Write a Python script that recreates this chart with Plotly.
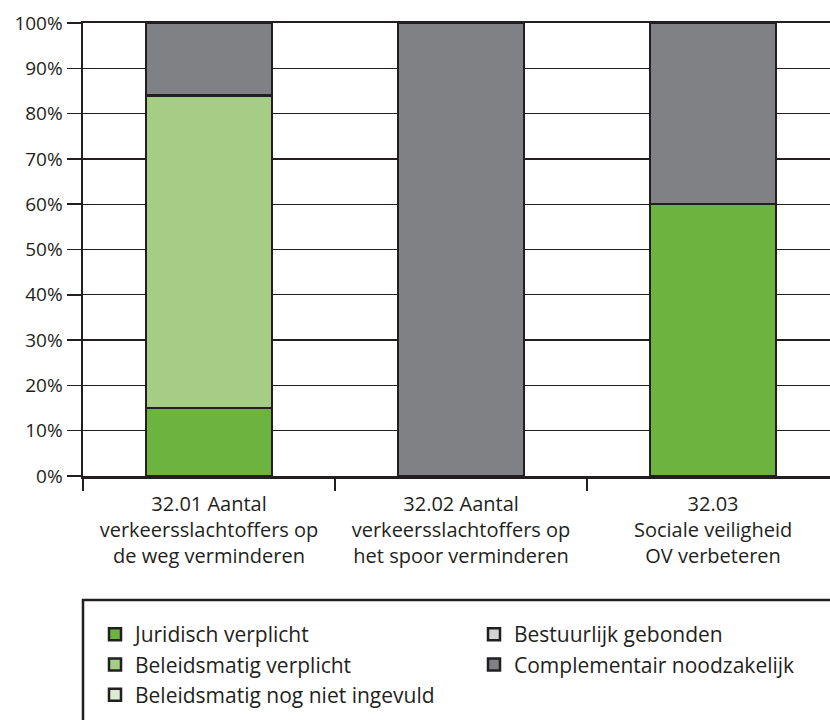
import plotly.graph_objects as go

categories = [
    "32.01 Aantal<br>verkeersslachtoffers op<br>de weg verminderen",
    "32.02 Aantal<br>verkeersslachtoffers op<br>het spoor verminderen",
    "32.03<br>Sociale veiligheid<br>OV verbeteren",
]
x_pos = [0, 1, 2]
boundaries = [-0.5, 0.5, 1.5, 2.5]

juridisch = [15, 0, 60]
beleid_verplicht = [69, 0, 0]
beleid_nog_niet = [0, 0, 0]
bestuurlijk = [0, 0, 0]
complementair = [16, 100, 40]

y_ticks = [0, 10, 20, 30, 40, 50, 60, 70, 80, 90, 100]
y_labels = [f"{v}%" for v in y_ticks]

# name, values, colour, legend column
series = [
    ("Juridisch verplicht", juridisch, "#6cb33f", "legend"),
    ("Beleidsmatig verplicht", beleid_verplicht, "#a6cd86", "legend"),
    ("Beleidsmatig nog niet ingevuld", beleid_nog_niet, "#dcebd1", "legend"),
    ("Bestuurlijk gebonden", bestuurlijk, "#d2d3d4", "legend2"),
    ("Complementair noodzakelijk", complementair, "#808184", "legend2"),
]

INK = "#231f20"
FONT = "Open Sans"

fig = go.Figure()
for name, vals, color, leg in series:
    fig.add_trace(go.Bar(
        x=x_pos, y=vals, name=name, width=0.5,
        marker=dict(color=color, line=dict(color=INK, width=2.5)),
        legend=leg, hoverinfo="skip",
    ))

# invisible trace to drive the boundary-tick axis
fig.add_trace(go.Scatter(x=[boundaries[0]], y=[0], xaxis="x2", mode="markers",
                         marker=dict(opacity=0), showlegend=False, hoverinfo="skip"))

xr = [-0.5, 2.464]
leg_top = (476 - 614) / 453
legend_common = dict(orientation="v", xref="paper", yref="paper", xanchor="left",
                     y=leg_top, yanchor="top", font=dict(size=21, color=INK),
                     bgcolor="rgba(0,0,0,0)", traceorder="normal")
fig.update_layout(
    width=830, height=720,
    margin=dict(l=83, r=0, t=23, b=244),
    paper_bgcolor="white", plot_bgcolor="white",
    barmode="stack",
    font=dict(family=FONT, size=19, color=INK),
    showlegend=True,
    hovermode=False,
    xaxis=dict(range=xr, tickvals=x_pos, ticktext=categories, ticks="",
               showgrid=False, showline=True, mirror=True, linecolor=INK, linewidth=2.5,
               tickfont=dict(size=20, color=INK), zeroline=False,
               ticklabelstandoff=8, automargin=False),
    xaxis2=dict(range=xr, overlaying="x", anchor="y", side="bottom",
                tickvals=boundaries, ticks="outside", ticklen=14, tickwidth=1.5,
                tickcolor=INK, showticklabels=False, showgrid=False, showline=False,
                zeroline=False, automargin=False),
    yaxis=dict(range=[0, 100], tickvals=y_ticks, ticktext=y_labels,
               ticks="outside", ticklen=14, tickwidth=1.5, tickcolor=INK,
               showgrid=True, gridcolor=INK, gridwidth=1.4,
               showline=True, linecolor=INK, linewidth=2.5, zeroline=False,
               tickfont=dict(size=19, color=INK), ticklabelstandoff=0,
               automargin=False),
    legend=dict(x=(95 - 83) / 747, **legend_common),
    legend2=dict(x=(474 - 83) / 747, **legend_common),
    shapes=[dict(type="rect", xref="paper", yref="paper",
                 x0=0, x1=1.1, y0=-0.7, y1=(476 - 600) / 453,
                 line=dict(color=INK, width=2.5), fillcolor="rgba(0,0,0,0)")],
)

fig.write_html("out.html", config={"displayModeBar": False, "staticPlot": True},
               post_script="document.body.style.margin='0';")
